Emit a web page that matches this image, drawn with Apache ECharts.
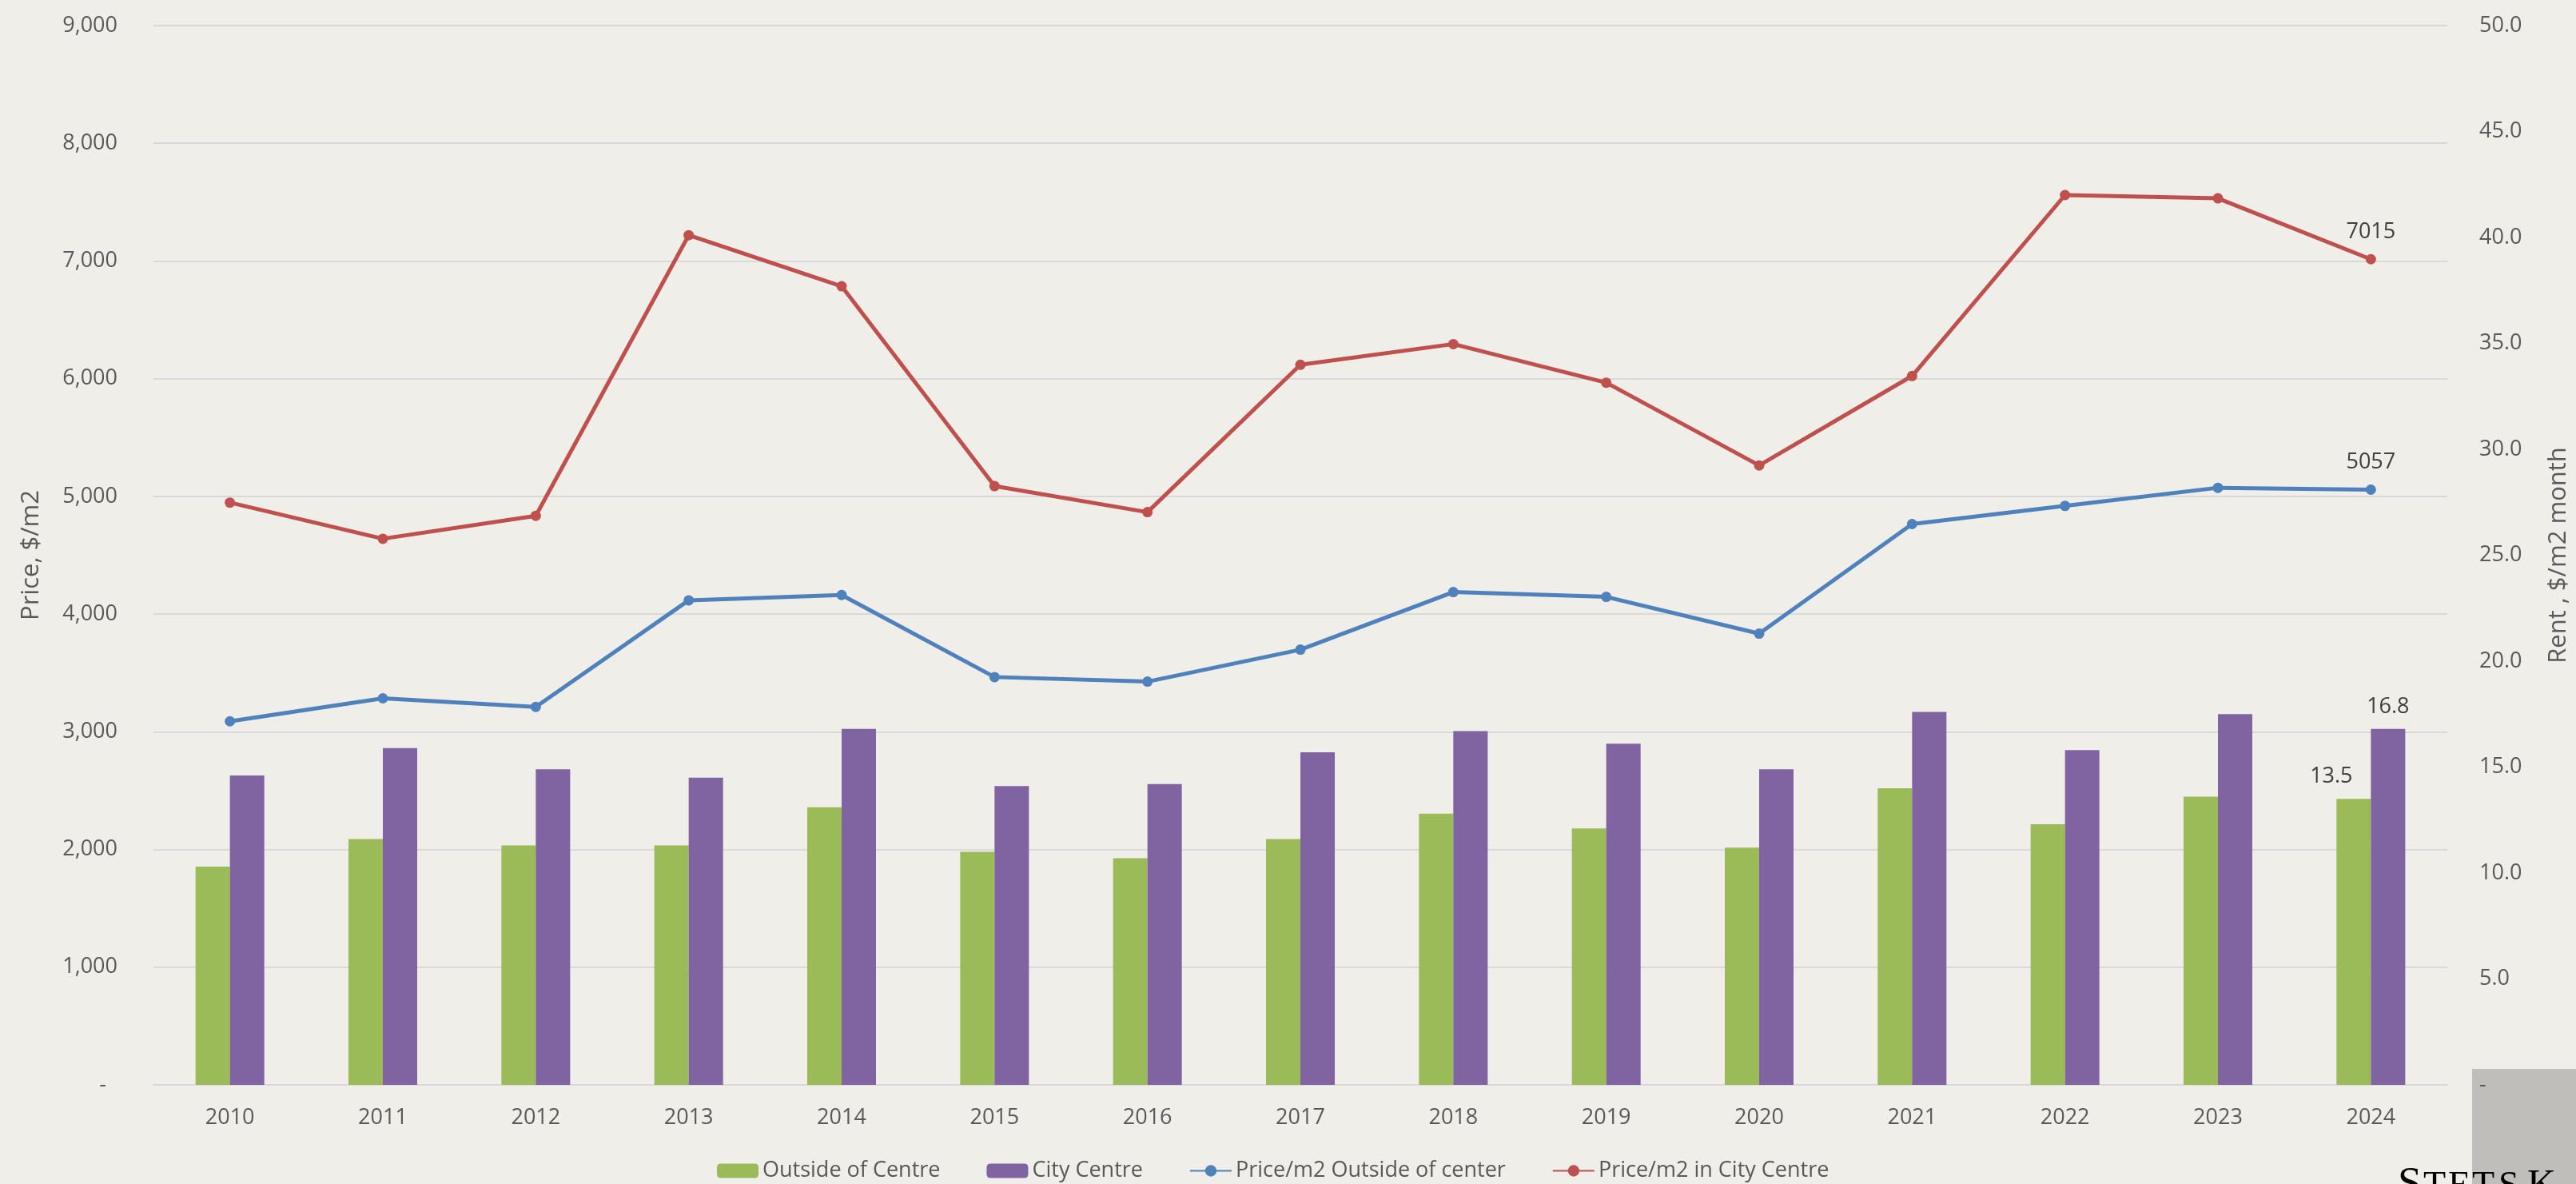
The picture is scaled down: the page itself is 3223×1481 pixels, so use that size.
<!DOCTYPE html>
<html>
<head>
<meta charset="utf-8">
<title>Price and rent</title>
<script src="https://cdn.jsdelivr.net/npm/echarts@6/dist/echarts.min.js"></script>
<style>
    html, body {
        margin: 0;
        padding: 0;
        background: #EFEEE8;
    }

    #chart {
        width: 3223px;
        height: 1481px;
    }
</style>
</head>
<body>
<div id="chart"></div>
<script>
// years on the x axis
var YearList = ['2010', '2011', '2012', '2013', '2014', '2015', '2016', '2017', '2018', '2019', '2020', '2021', '2022', '2023', '2024'];
// rent, $/m2 month (right axis)
var RentOutside = [10.3, 11.6, 11.3, 11.3, 13.1, 11.0, 10.7, 11.6, 12.8, 12.1, 11.2, 14.0, 12.3, 13.6, 13.5];
var RentCentre = [14.6, 15.9, 14.9, 14.5, 16.8, 14.1, 14.2, 15.7, 16.7, 16.1, 14.9, 17.6, 15.8, 17.5, 16.8];
// price, $/m2 (left axis)
var PriceOutside = [3089, 3284, 3211, 4117, 4162, 3465, 3426, 3698, 4187, 4146, 3834, 4765, 4919, 5073, 5057];
var PriceCentre = [4947, 4640, 4835, 7219, 6785, 5087, 4866, 6118, 6294, 5966, 5263, 6023, 7560, 7532, 7015];

var textColor = '#595959';
var fontName = '"Open Sans", "DejaVu Sans", sans-serif';

// only the last point of each series carries a label
function lastLabel(list, label) {
    return list.map(function (v, i) {
        if (i === list.length - 1) {
            return { value: v, label: label };
        }
        return v;
    });
}

// logo letters, cut off by the bottom edge
var logoLetters = [
    { t: 'S', x: 3000, size: 54 },
    { t: 'T', x: 3032, size: 46 },
    { t: 'E', x: 3063, size: 46 },
    { t: 'T', x: 3093, size: 46 },
    { t: 'S', x: 3126, size: 46 },
    { t: 'K', x: 3162, size: 50 }
];

var myChart = echarts.init(document.getElementById('chart'));

var graphicList = [
    {
        // grey block in the lower right corner
        type: 'rect',
        z: -100,
        shape: { x: 3093, y: 1337, width: 130, height: 144 },
        style: { fill: '#BFBEBA' }
    }
];
logoLetters.forEach(function (l) {
    graphicList.push({
        type: 'text',
        z: 100,
        x: l.x,
        y: 1501 - l.size * 0.34,
        style: {
            text: l.t,
            fill: '#000',
            font: l.size + 'px "Liberation Serif", serif',
            verticalAlign: 'middle'
        }
    });
});

var option = {
    backgroundColor: '#EFEEE8',
    textStyle: {
        fontFamily: fontName
    },
    animation: false,
    grid: {
        left: 192,
        right: 161,
        top: 32,
        bottom: 124,
        outerBoundsMode: 'none'
    },
    legend: {
        left: 892,
        top: 1446,
        itemWidth: 52,
        itemHeight: 18,
        itemGap: 58,
        textStyle: {
            color: textColor,
            fontSize: 27,
            fontFamily: fontName
        },
        data: ['Outside of Centre', 'City Centre', 'Price/m2 Outside of center', 'Price/m2 in City Centre']
    },
    xAxis: {
        type: 'category',
        data: YearList,
        axisTick: { show: false },
        axisLine: {
            lineStyle: { color: '#D9D9D9', width: 2 }
        },
        axisLabel: {
            color: textColor,
            fontSize: 27,
            margin: 28
        }
    },
    yAxis: [
        {
            type: 'value',
            name: 'Price, $/m2',
            nameLocation: 'middle',
            nameGap: 137,
            nameTextStyle: { color: textColor, fontSize: 31 },
            min: 0,
            max: 9000,
            interval: 1000,
            axisLine: { show: false },
            axisTick: { show: false },
            splitLine: {
                lineStyle: { color: '#D9D9D9', width: 2 }
            },
            axisLabel: {
                color: textColor,
                fontSize: 27,
                margin: 45,
                formatter: function (v) {
                    if (v === 0) { return '-  '; }
                    return v.toLocaleString('en-US');
                }
            }
        },
        {
            type: 'value',
            name: 'Rent , $/m2 month',
            nameLocation: 'middle',
            nameGap: 124,
            nameTextStyle: { color: textColor, fontSize: 31 },
            min: 0,
            max: 50,
            interval: 5,
            axisLine: { show: false },
            axisTick: { show: false },
            splitLine: { show: false },
            axisLabel: {
                color: textColor,
                fontSize: 27,
                margin: 40,
                formatter: function (v) {
                    if (v === 0) { return '-'; }
                    return v.toFixed(1);
                }
            }
        }
    ],
    series: [
        {
            name: 'Outside of Centre',
            type: 'bar',
            yAxisIndex: 1,
            barWidth: 43,
            barGap: '0%',
            itemStyle: { color: '#9BBB59' },
            data: lastLabel(RentOutside, {
                show: true,
                position: 'top',
                distance: 14,
                offset: [-28, 0],
                color: '#404040',
                fontSize: 27,
                formatter: function (p) { return p.value.toFixed(1); }
            })
        },
        {
            name: 'City Centre',
            type: 'bar',
            yAxisIndex: 1,
            barWidth: 43,
            itemStyle: { color: '#8064A2' },
            data: lastLabel(RentCentre, {
                show: true,
                position: 'top',
                distance: 14,
                color: '#404040',
                fontSize: 27,
                formatter: function (p) { return p.value.toFixed(1); }
            })
        },
        {
            name: 'Price/m2 Outside of center',
            type: 'line',
            yAxisIndex: 0,
            symbol: 'circle',
            symbolSize: 13,
            lineStyle: { color: '#4F81BD', width: 5 },
            itemStyle: { color: '#4F81BD' },
            data: lastLabel(PriceOutside, {
                show: true,
                position: 'top',
                distance: 14,
                color: '#404040',
                fontSize: 27
            })
        },
        {
            name: 'Price/m2 in City Centre',
            type: 'line',
            yAxisIndex: 0,
            symbol: 'circle',
            symbolSize: 13,
            lineStyle: { color: '#C0504D', width: 5 },
            itemStyle: { color: '#C0504D' },
            data: lastLabel(PriceCentre, {
                show: true,
                position: 'top',
                distance: 14,
                color: '#404040',
                fontSize: 27
            })
        }
    ],
    graphic: graphicList
};

myChart.setOption(option);
window.addEventListener('resize', function () {
    myChart.resize();
});
</script>
</body>
</html>
